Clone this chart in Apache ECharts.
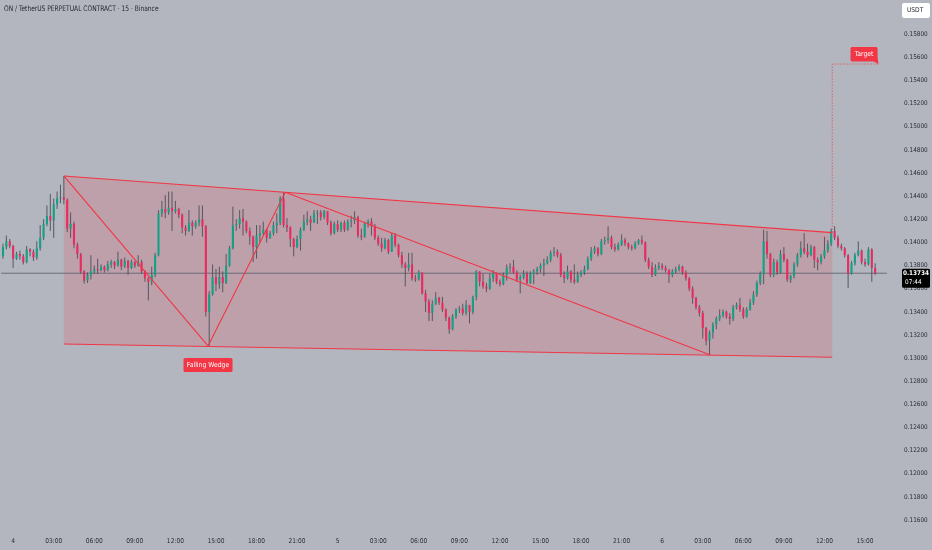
<!DOCTYPE html>
<html><head><meta charset="utf-8">
<script src="https://cdn.jsdelivr.net/npm/echarts@6/dist/echarts.min.js"></script>
<style>html,body{margin:0;padding:0;background:#b3b6be;} #c{width:932px;height:550px;}</style>
</head><body><div id="c"></div>
<script>
// ---- data ----
const open0 = 0.1388;
const closes = [
0.1396,0.1401,0.1397,0.1386,0.1390,0.1388,0.1383,0.1394,0.1392,0.1387,
0.1395,0.1404,0.1416,0.1423,0.1419,0.1433,0.1438,0.1439,0.1437,0.1412,
0.1416,0.1398,0.1390,0.1375,0.1367,0.1372,0.1375,0.1377,0.1376,0.1379,
0.1376,0.1381,0.1383,0.1380,0.1385,0.1379,0.1384,0.1378,0.1383,0.1380,
0.1383,0.1375,0.1369,0.1366,0.1372,0.1389,0.1425,0.1429,0.1426,0.1430,
0.1427,0.1429,0.1424,0.1413,0.1410,0.1417,0.1414,0.1417,0.1420,0.1414,
0.1340,0.1355,0.1370,0.1364,0.1370,0.1365,0.1380,0.1395,0.1415,0.1416,
0.1421,0.1418,0.1410,0.1405,0.1396,0.1406,0.1408,0.1411,0.1404,0.1408,
0.1415,0.1417,0.1438,0.1415,0.1413,0.1403,0.1396,0.1403,0.1411,0.1418,
0.1420,0.1417,0.1425,0.1426,0.1422,0.1427,0.1417,0.1408,0.1416,0.1411,
0.1417,0.1411,0.1418,0.1419,0.1422,0.1406,0.1405,0.1416,0.1418,0.1414,
0.1404,0.1399,0.1395,0.1402,0.1392,0.1406,0.1398,0.1389,0.1381,0.1378,
0.1381,0.1369,0.1368,0.1374,0.1356,0.1349,0.1339,0.1347,0.1352,0.1348,
0.1342,0.1335,0.1325,0.1336,0.1342,0.1343,0.1339,0.1346,0.1340,0.1353,
0.1375,0.1366,0.1362,0.1360,0.1369,0.1373,0.1366,0.1364,0.1372,0.1378,
0.1379,0.1374,0.1368,0.1370,0.1373,0.1365,0.1373,0.1375,0.1377,0.1380,
0.1382,0.1385,0.1391,0.1392,0.1389,0.1372,0.1369,0.1375,0.1368,0.1366,
0.1372,0.1374,0.1377,0.1386,0.1392,0.1395,0.1390,0.1401,0.1402,0.1404,
0.1396,0.1394,0.1398,0.1402,0.1399,0.1396,0.1395,0.1399,0.1402,0.1400,
0.1385,0.1379,0.1372,0.1378,0.1380,0.1378,0.1376,0.1372,0.1375,0.1377,
0.1379,0.1374,0.1369,0.1360,0.1352,0.1344,0.1339,0.1326,0.1315,0.1322,
0.1329,0.1334,0.1337,0.1340,0.1336,0.1334,0.1344,0.1346,0.1342,0.1336,
0.1342,0.1348,0.1355,0.1365,0.1373,0.1401,0.1390,0.1372,0.1383,0.1374,
0.1390,0.1385,0.1368,0.1371,0.1381,0.1389,0.1395,0.1392,0.1389,0.1396,
0.1385,0.1383,0.1388,0.1393,0.1399,0.1410,0.1404,0.1397,0.1395,0.1389,
0.1373,0.1382,0.1389,0.1393,0.1383,0.1381,0.1394,0.1378,0.13734
];
const highs = [
0.1399,0.1406,0.1403,0.1398,0.1392,0.1393,0.1390,0.1397,0.1395,0.1394,
0.1401,0.1415,0.1420,0.1432,0.1442,0.1438,0.1444,0.1450,0.14575,0.1438,
0.1426,0.1418,0.1400,0.1391,0.1376,0.1374,0.1389,0.1380,0.1386,0.1381,
0.1380,0.1384,0.1385,0.1384,0.1392,0.1386,0.1387,0.1385,0.1385,0.1384,
0.1389,0.1385,0.1376,0.1370,0.1379,0.1391,0.1428,0.1436,0.1441,0.1444,
0.1444,0.1436,0.1430,0.1425,0.1415,0.1428,0.1419,0.1419,0.1432,0.1432,
0.1415,0.1358,0.1381,0.1377,0.1379,0.1375,0.1390,0.1397,0.1431,0.1420,
0.1428,0.1429,0.1419,0.1413,0.1406,0.1415,0.1415,0.1418,0.1412,0.1410,
0.1418,0.1425,0.1440,0.14434,0.1421,0.1414,0.1404,0.1406,0.1413,0.1424,
0.1427,0.1423,0.1428,0.1428,0.1428,0.1428,0.1427,0.1419,0.1418,0.1419,
0.1418,0.1419,0.1420,0.1423,0.1427,0.1423,0.1412,0.1418,0.1420,0.1421,
0.1416,0.1406,0.1404,0.1404,0.1403,0.1408,0.1408,0.1399,0.1392,0.1383,
0.1391,0.1391,0.1372,0.1376,0.1374,0.1359,0.1351,0.1350,0.1357,0.1353,
0.1353,0.1343,0.1336,0.1338,0.1343,0.1345,0.1347,0.1350,0.1346,0.1354,
0.1376,0.1375,0.1373,0.1365,0.1373,0.1376,0.1374,0.1368,0.1374,0.1381,
0.1382,0.1385,0.1376,0.1372,0.1376,0.1375,0.1375,0.1377,0.1379,0.1382,
0.1386,0.1388,0.1393,0.1396,0.1394,0.1391,0.1375,0.1380,0.1376,0.1381,
0.1375,0.1376,0.1380,0.1388,0.1396,0.1397,0.1396,0.1403,0.1405,0.1414,
0.1406,0.1399,0.1400,0.1407,0.1404,0.1400,0.1398,0.1401,0.1403,0.1406,
0.1401,0.1387,0.1383,0.1381,0.1383,0.1382,0.1380,0.1377,0.1377,0.1379,
0.1381,0.1380,0.1376,0.1370,0.1362,0.1353,0.1346,0.1341,0.1327,0.1324,
0.1331,0.1336,0.1342,0.1342,0.1341,0.1339,0.1346,0.1348,0.1352,0.1344,
0.1344,0.1351,0.1358,0.1367,0.1375,0.1411,0.1410,0.1391,0.1386,0.1385,
0.13935,0.1396,0.1386,0.1372,0.1383,0.1391,0.1401,0.1408,0.1399,0.1398,
0.1397,0.1387,0.1390,0.1405,0.1402,0.1412,0.1414,0.1406,0.1399,0.1396,
0.1390,0.1384,0.1391,0.1401,0.1394,0.1386,0.1396,0.1395,0.1382
];
const lows = [
0.1386,0.1394,0.1395,0.1378,0.1385,0.1385,0.1381,0.1382,0.1388,0.1384,
0.1385,0.1393,0.1402,0.1414,0.1410,0.1404,0.1429,0.1434,0.1433,0.1409,
0.1404,0.1395,0.1386,0.1373,0.13645,0.1365,0.1368,0.1373,0.1373,0.1375,
0.1374,0.1375,0.1378,0.1377,0.1379,0.1376,0.1378,0.1372,0.1377,0.1378,
0.1379,0.1373,0.1366,0.1350,0.1363,0.1370,0.1388,0.1422,0.1421,0.1424,
0.1410,0.1425,0.1421,0.1408,0.1406,0.1409,0.1406,0.1412,0.1414,0.1405,
0.1336,0.13105,0.1354,0.1358,0.1360,0.1357,0.1364,0.1379,0.1394,0.1410,
0.1412,0.1406,0.1408,0.1398,0.1383,0.1386,0.1400,0.1406,0.1400,0.1403,
0.1406,0.1408,0.1415,0.1413,0.1409,0.1396,0.1388,0.1395,0.1393,0.1410,
0.1415,0.1410,0.1417,0.1416,0.1419,0.1420,0.1415,0.1406,0.1407,0.1409,
0.1409,0.1409,0.1410,0.1413,0.1416,0.1404,0.1402,0.1404,0.1413,0.1406,
0.1402,0.1397,0.1392,0.1394,0.1390,0.1392,0.1396,0.1387,0.1378,0.1362,
0.1375,0.1367,0.1366,0.1367,0.1355,0.1340,0.1332,0.1332,0.1346,0.1346,
0.1340,0.1332,0.1321,0.1324,0.1334,0.1339,0.1337,0.1337,0.1330,0.1338,
0.1350,0.1362,0.1360,0.1357,0.1359,0.1366,0.1364,0.1362,0.1363,0.1367,
0.1374,0.1373,0.1366,0.1356,0.1368,0.1364,0.1364,0.1364,0.1372,0.1374,
0.1371,0.1381,0.1383,0.1388,0.1387,0.1370,0.1365,0.1368,0.1365,0.1364,
0.1365,0.1370,0.1372,0.1376,0.1384,0.1390,0.1388,0.1389,0.1398,0.1399,
0.1394,0.1392,0.1393,0.1397,0.1397,0.1394,0.1393,0.1394,0.1398,0.1398,
0.1383,0.1377,0.1370,0.1371,0.1376,0.1376,0.1374,0.1365,0.1370,0.1373,
0.1375,0.1372,0.1367,0.1358,0.1347,0.1342,0.1336,0.1317,0.1311,0.13027,
0.1317,0.1325,0.1332,0.1335,0.1334,0.1329,0.1332,0.1342,0.1340,0.1334,
0.1335,0.1341,0.1346,0.1353,0.1363,0.1364,0.1386,0.1370,0.1370,0.1372,
0.1373,0.1383,0.1366,0.1365,0.1369,0.1379,0.1387,0.1390,0.1387,0.1388,
0.1378,0.1376,0.1381,0.1386,0.1391,0.1397,0.1402,0.1395,0.1393,0.1387,
0.13605,0.1372,0.1380,0.1388,0.1381,0.1379,0.1380,0.1366,0.1372
];
// x tick labels (every 3 hours, first at slot 3 = day 4 00:00)
const xTickLabels = ['4','03:00','06:00','09:00','12:00','15:00','18:00','21:00',
  '5','03:00','06:00','09:00','12:00','15:00','18:00','21:00',
  '6','03:00','06:00','09:00','12:00','15:00'];
const xTickStart = 3, xTickStep = 12, slotCount = 262;
const yTicks = [0.116,0.118,0.120,0.122,0.124,0.126,0.128,0.130,0.132,0.134,0.136,
  0.138,0.140,0.142,0.144,0.146,0.148,0.150,0.152,0.154,0.156,0.158];
// drawing (slot index, price)
const wedgeUpper = [[18, 0.14575], [245.3, 0.14085]];
const wedgeLower = [[18, 0.13122], [245.3, 0.13007]];
const zigzag = [[18, 0.14575], [60.65, 0.13105], [83.5, 0.14434], [209.25, 0.13027]];
const targetPath = [[245.3, 0.14085], [245.3, 0.15543], [259, 0.15543]];
const targetAnchor = [259, 0.15543];
const wedgeLabelAnchor = [60.65, 0.13105];
const lastPrice = 0.13734, countdown = '07:44';

// ---- styles ----
const UP = '#14a085', DOWN = '#ea2a60', WICK = '#4b4e57', RED = '#f23645';
const FONT = '"Liberation Sans Narrow","DejaVu Sans Condensed","Liberation Sans",sans-serif';

const labelAt = [];
for (let i = 0; i < slotCount; i++) {
  const k = i - xTickStart;
  labelAt.push(k >= 0 && k % xTickStep === 0 && k / xTickStep < xTickLabels.length ? xTickLabels[k / xTickStep] : '');
}
const cats = labelAt.map((_, i) => String(i));
const candleData = closes.map((c, i) => [i, i ? closes[i - 1] : open0, c, lows[i], highs[i]]);

const chart = echarts.init(document.getElementById('c'));
chart.setOption({
  animation: false,
  backgroundColor: '#b3b6be',
  grid: { left: 0, top: 0, width: 887, height: 532, containLabel: false },
  xAxis: [
    { type: 'category', data: cats, boundaryGap: true,
      axisLine: { show: false }, axisTick: { show: false }, splitLine: { show: false },
      axisLabel: { interval: 0, margin: 6, color: '#2a2e39', fontSize: 6.6, fontFamily: FONT,
        formatter: (v, idx) => labelAt[idx] } },
    { type: 'value', min: -0.5, max: slotCount - 0.5, show: false }
  ],
  yAxis: { type: 'value', position: 'right', min: 0.114965, max: 0.160966, scale: true,
    axisLine: { show: false }, axisTick: { show: false }, splitLine: { show: false },
    axisLabel: { customValues: yTicks, margin: 17, align: 'left', color: '#2a2e39', fontSize: 6.4,
      fontFamily: FONT, formatter: v => v.toFixed(5) } },
  graphic: [
    { type: 'text', left: 4, top: 5, scaleX: 0.87, originX: 0,
      style: { text: 'ON / TetherUS PERPETUAL CONTRACT · 15 · Binance', fill: '#1e222d', font: '7.6px ' + FONT } },
    { type: 'rect', left: 902, top: 3, shape: { width: 28, height: 15, r: 2 }, style: { fill: '#ffffff' } },
    { type: 'text', left: 907, top: 7, style: { text: 'USDT', fill: '#1e222d', font: '6.6px ' + FONT } }
  ],
  series: [
    { type: 'custom', xAxisIndex: 1, silent: true, z: 1, data: [0],
      renderItem: (p, api) => {
        const pts = [api.coord(wedgeUpper[0]), api.coord(wedgeUpper[1]), api.coord(wedgeLower[1]), api.coord(wedgeLower[0])];
        return { type: 'polygon', shape: { points: pts }, style: { fill: 'rgba(242,54,69,0.17)' } };
      } },
    { type: 'line', xAxisIndex: 1, silent: true, z: 2, symbol: 'none',
      data: [[-0.5, lastPrice], [slotCount - 0.5, lastPrice]],
      lineStyle: { color: '#5a5d66', width: 1, opacity: 0.8 } },
    { type: 'custom', xAxisIndex: 1, silent: true, z: 3, data: candleData,
      encode: { x: 0, y: [1, 2, 3, 4] },
      renderItem: (p, api) => {
        const i = api.value(0), o = api.value(1), c = api.value(2), l = api.value(3), h = api.value(4);
        const pH = api.coord([i, Math.max(h, o, c)]), pL = api.coord([i, Math.min(l, o, c)]);
        const pO = api.coord([i, o]), pC = api.coord([i, c]);
        const w = api.size([1, 0])[0] * 0.62;
        const xw = pH[0];
        const top = Math.min(pO[1], pC[1]);
        const ht = Math.max(Math.abs(pO[1] - pC[1]), 1);
        return { type: 'group', children: [
          { type: 'line', shape: { x1: xw, y1: pH[1], x2: xw, y2: pL[1] }, style: { stroke: WICK, lineWidth: 0.9 } },
          { type: 'rect', shape: { x: xw - w / 2, y: top, width: w, height: ht }, style: { fill: c >= o ? UP : DOWN } }
        ] };
      } },
    { type: 'line', xAxisIndex: 1, silent: true, z: 4, symbol: 'none', data: wedgeUpper,
      lineStyle: { color: RED, width: 1.1 } },
    { type: 'line', xAxisIndex: 1, silent: true, z: 4, symbol: 'none', data: wedgeLower,
      lineStyle: { color: RED, width: 1.1 } },
    { type: 'line', xAxisIndex: 1, silent: true, z: 4, symbol: 'none', data: zigzag,
      lineStyle: { color: RED, width: 1.1 } },
    { type: 'line', xAxisIndex: 1, silent: true, z: 4, symbol: 'none', data: targetPath,
      lineStyle: { color: RED, width: 1, type: [1, 2] } },
    { type: 'custom', xAxisIndex: 1, silent: true, z: 6, clip: false, data: [0],
      renderItem: (p, api) => {
        const cs = p.coordSys;
        const ta = api.coord(targetAnchor);
        const wa = api.coord(wedgeLabelAnchor);
        const py = api.coord([0, lastPrice])[1];
        const tr = ta[0] - 1, tb = ta[1] - 2.5, tw = 27, th = 14.5;
        const wx = wa[0] - 24.5, wy = wa[1] + 12;
        const px = cs.x + cs.width + 15;
        return { type: 'group', children: [
          { type: 'rect', shape: { x: tr - tw, y: tb - th, width: tw, height: th, r: 1.5 }, style: { fill: RED } },
          { type: 'polygon', shape: { points: [[tr - 4, tb], [tr, tb - 4], [ta[0], ta[1]]] }, style: { fill: RED } },
          { type: 'text', style: { x: tr - tw / 2, y: tb - th / 2, text: 'Target', fill: '#ffffff',
            font: '6.8px ' + FONT, align: 'center', verticalAlign: 'middle' } },
          { type: 'rect', shape: { x: wx, y: wy, width: 49, height: 14, r: 1.5 }, style: { fill: RED } },
          { type: 'text', style: { x: wx + 24.5, y: wy + 7, text: 'Falling Wedge', fill: '#ffffff',
            font: '6.8px ' + FONT, align: 'center', verticalAlign: 'middle' } },
          { type: 'rect', shape: { x: px, y: py - 4.5, width: 28, height: 19, r: 1.5 }, style: { fill: '#000000' } },
          { type: 'text', style: { x: px + 14, y: py + 0.5, text: lastPrice.toFixed(5), fill: '#ffffff',
            font: 'bold 6.4px ' + FONT, align: 'center', verticalAlign: 'middle' } },
          { type: 'text', style: { x: px + 3, y: py + 9.5, text: countdown, fill: '#ffffff',
            font: '6.4px ' + FONT, verticalAlign: 'middle' } }
        ] };
      } }
  ]
});
</script></body></html>
